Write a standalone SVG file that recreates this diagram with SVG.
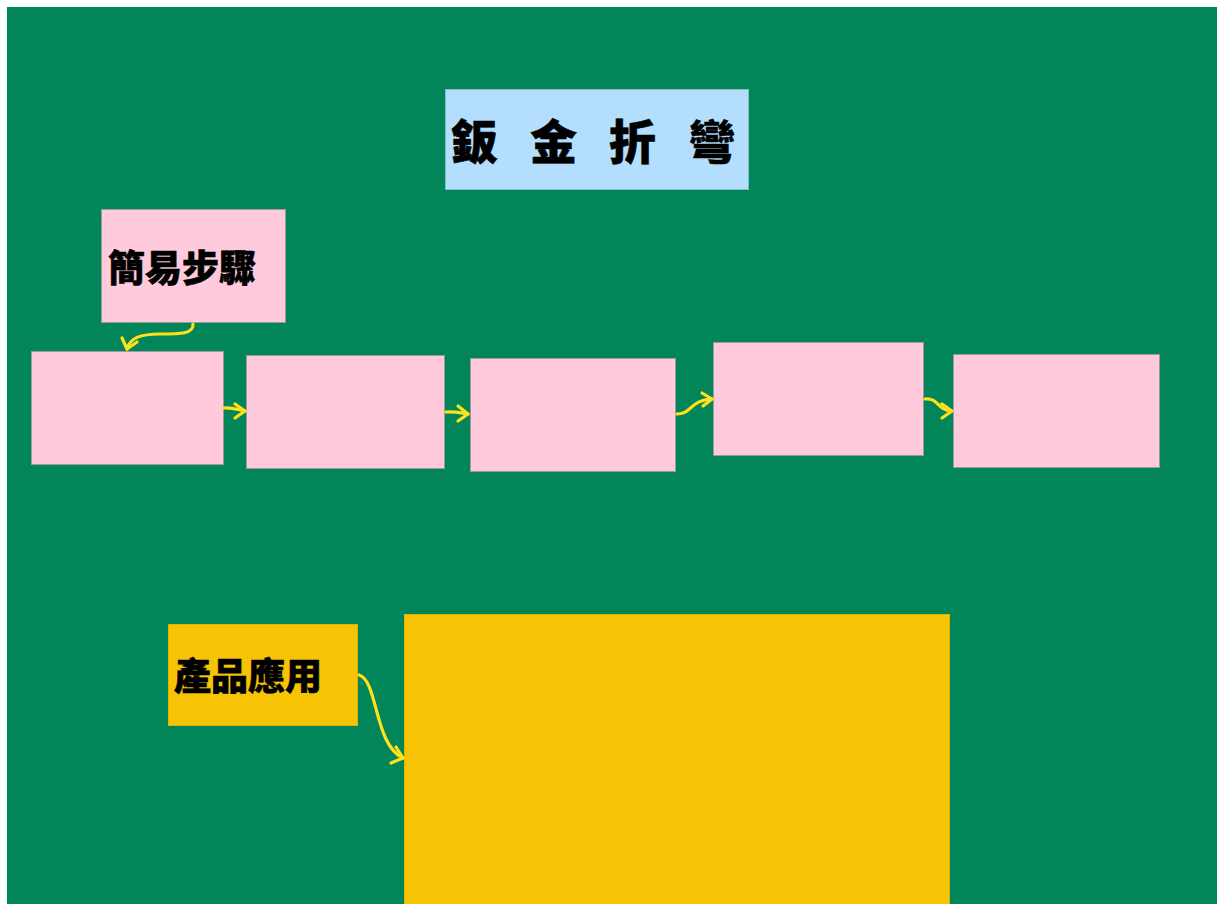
<svg xmlns="http://www.w3.org/2000/svg" width="1217" height="904" viewBox="0 0 1217 904">
<defs>
<style>
.pink{fill:#FFCADB;stroke:#9E9A9C;stroke-width:1}
.yellow{fill:#F7C405;stroke:#E0B300;stroke-width:1}
.blue{fill:#B3DEFD;stroke:#7FC0C8;stroke-width:1}
.lbl{font-family:"Noto Sans CJK TC","Noto Sans CJK SC",sans-serif;font-weight:900;fill:#000;stroke:#000;stroke-width:0.6}
.con{fill:none;stroke:#FFE11B;stroke-width:3.2;stroke-linecap:round;stroke-linejoin:round}
</style>
</defs>
<rect x="0" y="0" width="1217" height="904" fill="#ffffff"/>
<rect x="7" y="7" width="1210" height="897" fill="#03855A"/>
<g id="title">
<rect class="blue" x="445.5" y="89.5" width="303" height="100"/>
<text class="lbl" x="451" y="159" font-size="47" letter-spacing="32">鈑金折彎</text>
</g>
<g id="steps">
<rect class="pink" x="101.5" y="209.5" width="184" height="113"/>
<text class="lbl" x="108" y="282" font-size="37">簡易步驟</text>
</g>
<g id="step1"><rect class="pink" x="31.5" y="351.5" width="192" height="113"/></g>
<g id="step2"><rect class="pink" x="246.5" y="355.5" width="198" height="113"/></g>
<g id="step3"><rect class="pink" x="470.5" y="358.5" width="205" height="113"/></g>
<g id="step4"><rect class="pink" x="713.5" y="342.5" width="210" height="113"/></g>
<g id="step5"><rect class="pink" x="953.5" y="354.5" width="206" height="113"/></g>
<g id="apps">
<rect class="yellow" x="168.5" y="624.5" width="189" height="101"/>
<text class="lbl" x="174" y="690" font-size="37">產品應用</text>
</g>
<g id="appbox"><rect class="yellow" x="404.5" y="614.5" width="545" height="295"/></g>
<g id="connectors">
<path class="con" d="M193,324 C194,334 180,334 160,334 C140,334 130,338 127,349"/>
<path class="con" d="M122,338 L127,349 L137,342"/>
<path class="con" d="M224,408 C232,407 238,410 245,411"/>
<path class="con" d="M235,404 L245,411 L235,418"/>
<path class="con" d="M446,412 C454,411 461,413 468,414"/>
<path class="con" d="M458,406 L468,414 L458,421"/>
<path class="con" d="M677,414 C692,414 690,400 712,399"/>
<path class="con" d="M702,393 L712,399 L703,406"/>
<path class="con" d="M925,399 C940,398 936,410 952,411"/>
<path class="con" d="M942,404 L952,411 L942,418"/>
<path class="con" d="M359,675 C378,680 374,745 403,758"/>
<path class="con" d="M396,747 L403,758 L391,763"/>
</g>
</svg>
